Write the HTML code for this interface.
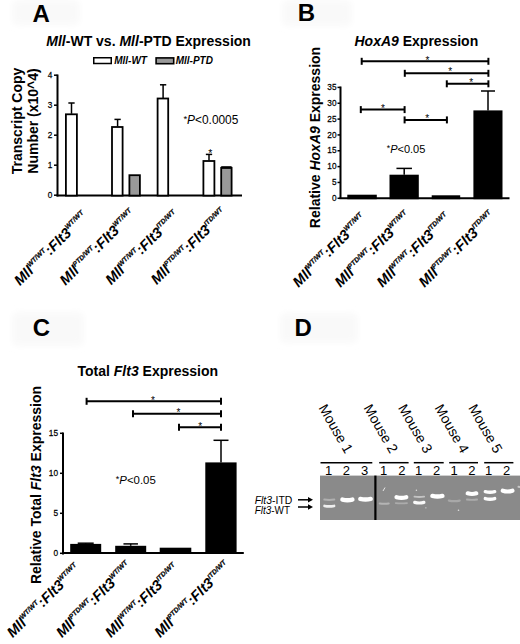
<!DOCTYPE html>
<html><head><meta charset="utf-8"><style>
html,body{margin:0;padding:0;background:#fff;}
svg{display:block;font-family:"Liberation Sans", sans-serif;}
</style></head><body>
<svg width="520" height="644" viewBox="0 0 520 644">
<defs><filter id="bl" filterUnits="userSpaceOnUse" x="300" y="460" width="220" height="70"><feGaussianBlur stdDeviation="0.65"/></filter><filter id="bl2" x="-20%" y="-40%" width="140%" height="180%"><feGaussianBlur stdDeviation="3"/></filter></defs>
<rect x="0" y="0" width="520" height="644" fill="#fff"/>
<rect x="12" y="0" width="68" height="25" rx="6" fill="#f9f9f9" filter="url(#bl2)"/>
<rect x="282" y="0" width="70" height="26" rx="6" fill="#f9f9f9" filter="url(#bl2)"/>
<rect x="12" y="312" width="72" height="34" rx="6" fill="#f9f9f9" filter="url(#bl2)"/>
<rect x="280" y="313" width="78" height="30" rx="6" fill="#f9f9f9" filter="url(#bl2)"/>
<text x="32.5" y="22" font-size="24" font-weight="bold" font-style="normal" text-anchor="start">A</text>
<text x="46.3" y="46.2" font-size="14" font-weight="bold" font-style="normal" text-anchor="start"><tspan font-style="italic">Mll</tspan>-WT vs. <tspan font-style="italic">Mll</tspan>-PTD Expression</text>
<rect x="93.75" y="57.75" width="17.5" height="5.75" fill="#fff" stroke="#000" stroke-width="1.5"/>
<text x="114.2" y="63.9" font-size="10" font-weight="bold" font-style="italic" text-anchor="start">Mll-WT</text>
<rect x="156.1" y="57.9" width="17.6" height="5.8" fill="#999" stroke="#000" stroke-width="1.6"/>
<text x="175.7" y="63.9" font-size="10" font-weight="bold" font-style="italic" text-anchor="start">Mll-PTD</text>
<text x="0" y="0" font-size="14" font-weight="bold" font-style="normal" text-anchor="middle" transform="translate(21.7,121) rotate(-90)">Transcript Copy</text>
<text x="0" y="0" font-size="14" font-weight="bold" font-style="normal" text-anchor="middle" transform="translate(37.5,121) rotate(-90)">Number (x10^4)</text>
<line x1="57.5" y1="74.5" x2="57.5" y2="196.5" stroke="#000" stroke-width="2"/>
<line x1="56.5" y1="195.6" x2="242" y2="195.6" stroke="#000" stroke-width="2"/>
<line x1="54" y1="195.2" x2="57.5" y2="195.2" stroke="#000" stroke-width="1.5"/>
<text transform="translate(52.4,197.79999999999998) scale(0.86,1)" font-size="9.6" text-anchor="end" stroke="#000" stroke-width="0.25">0</text>
<line x1="54" y1="165.2" x2="57.5" y2="165.2" stroke="#000" stroke-width="1.5"/>
<text transform="translate(52.4,167.79999999999998) scale(0.86,1)" font-size="9.6" text-anchor="end" stroke="#000" stroke-width="0.25">1</text>
<line x1="54" y1="135.2" x2="57.5" y2="135.2" stroke="#000" stroke-width="1.5"/>
<text transform="translate(52.4,137.79999999999998) scale(0.86,1)" font-size="9.6" text-anchor="end" stroke="#000" stroke-width="0.25">2</text>
<line x1="54" y1="105.19999999999999" x2="57.5" y2="105.19999999999999" stroke="#000" stroke-width="1.5"/>
<text transform="translate(52.4,107.79999999999998) scale(0.86,1)" font-size="9.6" text-anchor="end" stroke="#000" stroke-width="0.25">3</text>
<line x1="54" y1="75.19999999999999" x2="57.5" y2="75.19999999999999" stroke="#000" stroke-width="1.5"/>
<text transform="translate(52.4,77.79999999999998) scale(0.86,1)" font-size="9.6" text-anchor="end" stroke="#000" stroke-width="0.25">4</text>
<rect x="65.9" y="114.30000000000001" width="10.999999999999996" height="81.29999999999998" fill="#fff" stroke="#000" stroke-width="1.8"/>
<line x1="71.5" y1="113.8" x2="71.5" y2="103" stroke="#000" stroke-width="1.5"/>
<line x1="68.35" y1="103" x2="74.65" y2="103" stroke="#000" stroke-width="1.5"/>
<rect x="112.0" y="127.0" width="10.600000000000005" height="68.6" fill="#fff" stroke="#000" stroke-width="1.8"/>
<line x1="117.6" y1="126.5" x2="117.6" y2="119.4" stroke="#000" stroke-width="1.5"/>
<line x1="114.44999999999999" y1="119.4" x2="120.75" y2="119.4" stroke="#000" stroke-width="1.5"/>
<rect x="129.4" y="175.20000000000002" width="10.50000000000001" height="20.399999999999984" fill="#999" stroke="#000" stroke-width="1.8"/>
<rect x="157.6" y="98.5" width="10.600000000000005" height="97.1" fill="#fff" stroke="#000" stroke-width="1.8"/>
<line x1="163.1" y1="97.9" x2="163.1" y2="84.8" stroke="#000" stroke-width="1.5"/>
<line x1="159.95" y1="84.8" x2="166.25" y2="84.8" stroke="#000" stroke-width="1.5"/>
<rect x="203.4" y="161.0" width="11.00000000000001" height="34.6" fill="#fff" stroke="#000" stroke-width="1.8"/>
<line x1="209" y1="160.4" x2="209" y2="154.4" stroke="#000" stroke-width="1.5"/>
<line x1="205.85" y1="154.4" x2="212.15" y2="154.4" stroke="#000" stroke-width="1.5"/>
<text x="210.4" y="157.4" font-size="10.5" font-weight="normal" font-style="normal" text-anchor="middle">*</text>
<rect x="221.20000000000002" y="167.8" width="10.399999999999988" height="27.79999999999999" fill="#999" stroke="#000" stroke-width="1.8"/>
<line x1="221.2" y1="167.4" x2="231.6" y2="167.4" stroke="#000" stroke-width="2.4"/>
<text x="183.4" y="124" font-size="11.9" font-weight="normal" font-style="normal" text-anchor="start"><tspan font-size="80%" dy="-2.2">*</tspan><tspan font-style="italic" dy="2.2">P</tspan>&lt;0.0005</text>
<text transform="translate(20.0,286.2) rotate(-45)" font-size="14.5" font-weight="bold" font-style="italic">Mll<tspan font-size="6.8" dy="-6.525" stroke="#000" stroke-width="0.22">WT/WT</tspan><tspan dy="6.525">:Flt3</tspan><tspan font-size="6.8" dy="-6.525" stroke="#000" stroke-width="0.22">WT/WT</tspan></text>
<text transform="translate(65.6,285.9) rotate(-45)" font-size="14.5" font-weight="bold" font-style="italic">Mll<tspan font-size="6.8" dy="-6.525" stroke="#000" stroke-width="0.22">PTD/WT</tspan><tspan dy="6.525">:Flt3</tspan><tspan font-size="6.8" dy="-6.525" stroke="#000" stroke-width="0.22">WT/WT</tspan></text>
<text transform="translate(111.2,285.59999999999997) rotate(-45)" font-size="14.5" font-weight="bold" font-style="italic">Mll<tspan font-size="6.8" dy="-6.525" stroke="#000" stroke-width="0.22">WT/WT</tspan><tspan dy="6.525">:Flt3</tspan><tspan font-size="6.8" dy="-6.525" stroke="#000" stroke-width="0.22">ITD/WT</tspan></text>
<text transform="translate(156.8,285.3) rotate(-45)" font-size="14.5" font-weight="bold" font-style="italic">Mll<tspan font-size="6.8" dy="-6.525" stroke="#000" stroke-width="0.22">PTD/WT</tspan><tspan dy="6.525">:Flt3</tspan><tspan font-size="6.8" dy="-6.525" stroke="#000" stroke-width="0.22">ITD/WT</tspan></text>
<text x="297.75" y="21" font-size="24" font-weight="bold" font-style="normal" text-anchor="start">B</text>
<text x="354.5" y="46.2" font-size="14" font-weight="bold" font-style="normal" text-anchor="start"><tspan font-style="italic">HoxA9</tspan> Expression</text>
<text x="0" y="0" font-size="14" font-weight="bold" font-style="normal" text-anchor="middle" transform="translate(319.8,137.5) rotate(-90)">Relative <tspan font-style="italic">HoxA9</tspan> Expression</text>
<line x1="340.5" y1="86.5" x2="340.5" y2="199" stroke="#000" stroke-width="2"/>
<line x1="339.5" y1="198.3" x2="509.5" y2="198.3" stroke="#000" stroke-width="2"/>
<line x1="337.5" y1="198.3" x2="340.5" y2="198.3" stroke="#000" stroke-width="1.5"/>
<text transform="translate(336.5,200.9) scale(0.86,1)" font-size="9.6" text-anchor="end" stroke="#000" stroke-width="0.25">0</text>
<line x1="337.5" y1="182.45714285714286" x2="340.5" y2="182.45714285714286" stroke="#000" stroke-width="1.5"/>
<text transform="translate(336.5,185.05714285714285) scale(0.86,1)" font-size="9.6" text-anchor="end" stroke="#000" stroke-width="0.25">5</text>
<line x1="337.5" y1="166.61428571428573" x2="340.5" y2="166.61428571428573" stroke="#000" stroke-width="1.5"/>
<text transform="translate(336.5,169.21428571428572) scale(0.86,1)" font-size="9.6" text-anchor="end" stroke="#000" stroke-width="0.25">10</text>
<line x1="337.5" y1="150.77142857142857" x2="340.5" y2="150.77142857142857" stroke="#000" stroke-width="1.5"/>
<text transform="translate(336.5,153.37142857142857) scale(0.86,1)" font-size="9.6" text-anchor="end" stroke="#000" stroke-width="0.25">15</text>
<line x1="337.5" y1="134.92857142857144" x2="340.5" y2="134.92857142857144" stroke="#000" stroke-width="1.5"/>
<text transform="translate(336.5,137.52857142857144) scale(0.86,1)" font-size="9.6" text-anchor="end" stroke="#000" stroke-width="0.25">20</text>
<line x1="337.5" y1="119.0857142857143" x2="340.5" y2="119.0857142857143" stroke="#000" stroke-width="1.5"/>
<text transform="translate(336.5,121.6857142857143) scale(0.86,1)" font-size="9.6" text-anchor="end" stroke="#000" stroke-width="0.25">25</text>
<line x1="337.5" y1="103.24285714285715" x2="340.5" y2="103.24285714285715" stroke="#000" stroke-width="1.5"/>
<text transform="translate(336.5,105.84285714285714) scale(0.86,1)" font-size="9.6" text-anchor="end" stroke="#000" stroke-width="0.25">30</text>
<line x1="337.5" y1="87.4" x2="340.5" y2="87.4" stroke="#000" stroke-width="1.5"/>
<text transform="translate(336.5,90.0) scale(0.86,1)" font-size="9.6" text-anchor="end" stroke="#000" stroke-width="0.25">35</text>
<rect x="348.2" y="195.6" width="27.7" height="2.700000000000023" fill="#000" stroke="#000" stroke-width="1.8"/>
<rect x="390.4" y="175.6" width="27.50000000000001" height="22.700000000000024" fill="#000" stroke="#000" stroke-width="1.8"/>
<line x1="404.2" y1="174.7" x2="404.2" y2="168.4" stroke="#000" stroke-width="1.5"/>
<line x1="396.45" y1="168.4" x2="411.95" y2="168.4" stroke="#000" stroke-width="1.5"/>
<rect x="432.59999999999997" y="196.20000000000002" width="26.7" height="2.1" fill="#000" stroke="#000" stroke-width="1.8"/>
<rect x="474.29999999999995" y="111.30000000000001" width="27.300000000000022" height="87.0" fill="#000" stroke="#000" stroke-width="1.8"/>
<line x1="488" y1="110.4" x2="488" y2="91" stroke="#000" stroke-width="1.5"/>
<line x1="481.0" y1="91" x2="495.0" y2="91" stroke="#000" stroke-width="1.5"/>
<line x1="361.7" y1="61.3" x2="488.4" y2="61.3" stroke="#000" stroke-width="2"/>
<line x1="361.7" y1="57.8" x2="361.7" y2="64.8" stroke="#000" stroke-width="2"/>
<line x1="488.4" y1="57.8" x2="488.4" y2="64.8" stroke="#000" stroke-width="2"/>
<text x="427.5" y="63.5" font-size="10" font-weight="normal" font-style="normal" text-anchor="middle">*</text>
<line x1="404.8" y1="73.3" x2="488.4" y2="73.3" stroke="#000" stroke-width="2"/>
<line x1="404.8" y1="69.8" x2="404.8" y2="76.8" stroke="#000" stroke-width="2"/>
<line x1="488.4" y1="69.8" x2="488.4" y2="76.8" stroke="#000" stroke-width="2"/>
<text x="450.3" y="75.2" font-size="10" font-weight="normal" font-style="normal" text-anchor="middle">*</text>
<line x1="446.8" y1="83.8" x2="488.4" y2="83.8" stroke="#000" stroke-width="2"/>
<line x1="446.8" y1="80.3" x2="446.8" y2="87.3" stroke="#000" stroke-width="2"/>
<line x1="488.4" y1="80.3" x2="488.4" y2="87.3" stroke="#000" stroke-width="2"/>
<text x="471.3" y="86" font-size="10" font-weight="normal" font-style="normal" text-anchor="middle">*</text>
<line x1="360.8" y1="109.6" x2="404.6" y2="109.6" stroke="#000" stroke-width="2"/>
<line x1="360.8" y1="106.1" x2="360.8" y2="113.1" stroke="#000" stroke-width="2"/>
<line x1="404.6" y1="106.1" x2="404.6" y2="113.1" stroke="#000" stroke-width="2"/>
<text x="382.9" y="111.8" font-size="10" font-weight="normal" font-style="normal" text-anchor="middle">*</text>
<line x1="404.6" y1="119.9" x2="446.9" y2="119.9" stroke="#000" stroke-width="2"/>
<line x1="404.6" y1="116.4" x2="404.6" y2="123.4" stroke="#000" stroke-width="2"/>
<line x1="446.9" y1="116.4" x2="446.9" y2="123.4" stroke="#000" stroke-width="2"/>
<text x="427.1" y="122.2" font-size="10" font-weight="normal" font-style="normal" text-anchor="middle">*</text>
<text x="386.7" y="152.7" font-size="11.0" font-weight="normal" font-style="normal" text-anchor="start"><tspan font-size="80%" dy="-2.2">*</tspan><tspan font-style="italic" dy="2.2">P</tspan>&lt;0.05</text>
<text transform="translate(298.6,288) rotate(-45)" font-size="14.5" font-weight="bold" font-style="italic">Mll<tspan font-size="6.8" dy="-6.525" stroke="#000" stroke-width="0.22">WT/WT</tspan><tspan dy="6.525">:Flt3</tspan><tspan font-size="6.8" dy="-6.525" stroke="#000" stroke-width="0.22">WT/WT</tspan></text>
<text transform="translate(340.6,288) rotate(-45)" font-size="14.5" font-weight="bold" font-style="italic">Mll<tspan font-size="6.8" dy="-6.525" stroke="#000" stroke-width="0.22">PTD/WT</tspan><tspan dy="6.525">:Flt3</tspan><tspan font-size="6.8" dy="-6.525" stroke="#000" stroke-width="0.22">WT/WT</tspan></text>
<text transform="translate(382.6,288) rotate(-45)" font-size="14.5" font-weight="bold" font-style="italic">Mll<tspan font-size="6.8" dy="-6.525" stroke="#000" stroke-width="0.22">WT/WT</tspan><tspan dy="6.525">:Flt3</tspan><tspan font-size="6.8" dy="-6.525" stroke="#000" stroke-width="0.22">ITD/WT</tspan></text>
<text transform="translate(424.6,288) rotate(-45)" font-size="14.5" font-weight="bold" font-style="italic">Mll<tspan font-size="6.8" dy="-6.525" stroke="#000" stroke-width="0.22">PTD/WT</tspan><tspan dy="6.525">:Flt3</tspan><tspan font-size="6.8" dy="-6.525" stroke="#000" stroke-width="0.22">ITD/WT</tspan></text>
<text x="32.7" y="336" font-size="24" font-weight="bold" font-style="normal" text-anchor="start">C</text>
<text x="77.5" y="376.3" font-size="14" font-weight="bold" font-style="normal" text-anchor="start">Total <tspan font-style="italic">Flt3</tspan> Expression</text>
<text x="0" y="0" font-size="14" font-weight="bold" font-style="normal" text-anchor="middle" transform="translate(41,485) rotate(-90)">Relative Total <tspan font-style="italic">Flt3</tspan> Expression</text>
<line x1="63" y1="432.5" x2="63" y2="554.5" stroke="#000" stroke-width="2"/>
<line x1="62" y1="553.0" x2="243.8" y2="553.0" stroke="#000" stroke-width="2"/>
<line x1="60" y1="553.3" x2="63" y2="553.3" stroke="#000" stroke-width="1.5"/>
<text transform="translate(58,555.9) scale(0.86,1)" font-size="9.6" text-anchor="end" stroke="#000" stroke-width="0.25">0</text>
<line x1="60" y1="513.3" x2="63" y2="513.3" stroke="#000" stroke-width="1.5"/>
<text transform="translate(58,515.9) scale(0.86,1)" font-size="9.6" text-anchor="end" stroke="#000" stroke-width="0.25">5</text>
<line x1="60" y1="473.29999999999995" x2="63" y2="473.29999999999995" stroke="#000" stroke-width="1.5"/>
<text transform="translate(58,475.9) scale(0.86,1)" font-size="9.6" text-anchor="end" stroke="#000" stroke-width="0.25">10</text>
<line x1="60" y1="433.3" x2="63" y2="433.3" stroke="#000" stroke-width="1.5"/>
<text transform="translate(58,435.90000000000003) scale(0.86,1)" font-size="9.6" text-anchor="end" stroke="#000" stroke-width="0.25">15</text>
<rect x="71.10000000000001" y="544.8" width="29.2" height="8.200000000000022" fill="#000" stroke="#000" stroke-width="1.8"/>
<line x1="85.7" y1="543.9" x2="85.7" y2="543.2" stroke="#000" stroke-width="1.5"/>
<line x1="77.7" y1="543.2" x2="93.7" y2="543.2" stroke="#000" stroke-width="1.5"/>
<rect x="116.10000000000001" y="546.6999999999999" width="29.199999999999985" height="6.300000000000045" fill="#000" stroke="#000" stroke-width="1.8"/>
<line x1="130.7" y1="545.8" x2="130.7" y2="543.9" stroke="#000" stroke-width="1.5"/>
<line x1="123.44999999999999" y1="543.9" x2="137.95" y2="543.9" stroke="#000" stroke-width="1.5"/>
<rect x="160.6" y="548.6" width="29.800000000000022" height="4.399999999999954" fill="#000" stroke="#000" stroke-width="1.8"/>
<rect x="206.20000000000002" y="463.29999999999995" width="29.499999999999982" height="89.70000000000002" fill="#000" stroke="#000" stroke-width="1.8"/>
<line x1="221" y1="462.4" x2="221" y2="440.3" stroke="#000" stroke-width="1.5"/>
<line x1="213.5" y1="440.3" x2="228.5" y2="440.3" stroke="#000" stroke-width="1.5"/>
<line x1="86.6" y1="401.3" x2="221" y2="401.3" stroke="#000" stroke-width="2"/>
<line x1="86.6" y1="397.8" x2="86.6" y2="404.8" stroke="#000" stroke-width="2"/>
<line x1="221" y1="397.8" x2="221" y2="404.8" stroke="#000" stroke-width="2"/>
<text x="153" y="403.5" font-size="10" font-weight="normal" font-style="normal" text-anchor="middle">*</text>
<line x1="133" y1="413.8" x2="221" y2="413.8" stroke="#000" stroke-width="2"/>
<line x1="133" y1="410.3" x2="133" y2="417.3" stroke="#000" stroke-width="2"/>
<line x1="221" y1="410.3" x2="221" y2="417.3" stroke="#000" stroke-width="2"/>
<text x="178.4" y="416" font-size="10" font-weight="normal" font-style="normal" text-anchor="middle">*</text>
<line x1="179" y1="427.3" x2="221" y2="427.3" stroke="#000" stroke-width="2"/>
<line x1="179" y1="423.8" x2="179" y2="430.8" stroke="#000" stroke-width="2"/>
<line x1="221" y1="423.8" x2="221" y2="430.8" stroke="#000" stroke-width="2"/>
<text x="200.1" y="429.5" font-size="10" font-weight="normal" font-style="normal" text-anchor="middle">*</text>
<text x="115.8" y="483.7" font-size="11.4" font-weight="normal" font-style="normal" text-anchor="start"><tspan font-size="80%" dy="-2.2">*</tspan><tspan font-style="italic" dy="2.2">P</tspan>&lt;0.05</text>
<text transform="translate(12.75,638.3) rotate(-45)" font-size="14.5" font-weight="bold" font-style="italic">Mll<tspan font-size="6.8" dy="-6.525" stroke="#000" stroke-width="0.22">WT/WT</tspan><tspan dy="6.525">:Flt3</tspan><tspan font-size="6.8" dy="-6.525" stroke="#000" stroke-width="0.22">WT/WT</tspan></text>
<text transform="translate(61.92,638.3) rotate(-45)" font-size="14.5" font-weight="bold" font-style="italic">Mll<tspan font-size="6.8" dy="-6.525" stroke="#000" stroke-width="0.22">PTD/WT</tspan><tspan dy="6.525">:Flt3</tspan><tspan font-size="6.8" dy="-6.525" stroke="#000" stroke-width="0.22">WT/WT</tspan></text>
<text transform="translate(111.09,638.3) rotate(-45)" font-size="14.5" font-weight="bold" font-style="italic">Mll<tspan font-size="6.8" dy="-6.525" stroke="#000" stroke-width="0.22">WT/WT</tspan><tspan dy="6.525">:Flt3</tspan><tspan font-size="6.8" dy="-6.525" stroke="#000" stroke-width="0.22">ITD/WT</tspan></text>
<text transform="translate(160.26,638.3) rotate(-45)" font-size="14.5" font-weight="bold" font-style="italic">Mll<tspan font-size="6.8" dy="-6.525" stroke="#000" stroke-width="0.22">PTD/WT</tspan><tspan dy="6.525">:Flt3</tspan><tspan font-size="6.8" dy="-6.525" stroke="#000" stroke-width="0.22">ITD/WT</tspan></text>
<text x="294.5" y="336.3" font-size="24" font-weight="bold" font-style="normal" text-anchor="start">D</text>
<text x="0" y="0" font-size="14" font-weight="normal" font-style="normal" text-anchor="start" transform="translate(318.2,407.8) rotate(60)">Mouse 1</text>
<text x="0" y="0" font-size="14" font-weight="normal" font-style="normal" text-anchor="start" transform="translate(363.2,407.8) rotate(60)">Mouse 2</text>
<text x="0" y="0" font-size="14" font-weight="normal" font-style="normal" text-anchor="start" transform="translate(397.8,407.8) rotate(60)">Mouse 3</text>
<text x="0" y="0" font-size="14" font-weight="normal" font-style="normal" text-anchor="start" transform="translate(434.2,407.8) rotate(60)">Mouse 4</text>
<text x="0" y="0" font-size="14" font-weight="normal" font-style="normal" text-anchor="start" transform="translate(467.9,407.8) rotate(60)">Mouse 5</text>
<line x1="320.5" y1="462.7" x2="372.3" y2="462.7" stroke="#000" stroke-width="1.5"/>
<line x1="379.2" y1="462.7" x2="408.6" y2="462.7" stroke="#000" stroke-width="1.5"/>
<line x1="413.8" y1="462.7" x2="443.7" y2="462.7" stroke="#000" stroke-width="1.5"/>
<line x1="449.2" y1="462.7" x2="478" y2="462.7" stroke="#000" stroke-width="1.5"/>
<line x1="484.2" y1="462.7" x2="513.4" y2="462.7" stroke="#000" stroke-width="1.5"/>
<text x="328.5" y="474.8" font-size="13" font-weight="normal" font-style="normal" text-anchor="middle">1</text>
<text x="346.3" y="474.8" font-size="13" font-weight="normal" font-style="normal" text-anchor="middle">2</text>
<text x="364.5" y="474.8" font-size="13" font-weight="normal" font-style="normal" text-anchor="middle">3</text>
<text x="383.7" y="474.8" font-size="13" font-weight="normal" font-style="normal" text-anchor="middle">1</text>
<text x="401.8" y="474.8" font-size="13" font-weight="normal" font-style="normal" text-anchor="middle">2</text>
<text x="418.7" y="474.8" font-size="13" font-weight="normal" font-style="normal" text-anchor="middle">1</text>
<text x="436.6" y="474.8" font-size="13" font-weight="normal" font-style="normal" text-anchor="middle">2</text>
<text x="454" y="474.8" font-size="13" font-weight="normal" font-style="normal" text-anchor="middle">1</text>
<text x="471.8" y="474.8" font-size="13" font-weight="normal" font-style="normal" text-anchor="middle">2</text>
<text x="488.6" y="474.8" font-size="13" font-weight="normal" font-style="normal" text-anchor="middle">1</text>
<text x="506.7" y="474.8" font-size="13" font-weight="normal" font-style="normal" text-anchor="middle">2</text>
<rect x="320" y="475.6" width="200" height="44.4" fill="#8a8a8a"/>
<rect x="374.3" y="475.6" width="2.2" height="44.4" fill="#000"/>
<path d="M324.30,499.60 Q329.30,500.40 334.30,499.60" stroke="#b0b0b0" stroke-width="2.0" stroke-linecap="round" fill="none" filter="url(#bl)"/>
<path d="M324.50,505.90 Q329.30,506.90 334.10,505.90" stroke="#eeeeee" stroke-width="2.6" stroke-linecap="round" fill="none" filter="url(#bl)"/>
<path d="M342.40,499.60 Q347.40,500.80 352.40,499.60" stroke="#fff" stroke-width="4.4" stroke-linecap="round" fill="none" filter="url(#bl)"/>
<path d="M360.30,498.90 Q365.50,500.10 370.70,498.90" stroke="#fff" stroke-width="4.4" stroke-linecap="round" fill="none" filter="url(#bl)"/>
<path d="M379.70,503.40 Q384.20,504.20 388.70,503.40" stroke="#b4b4b4" stroke-width="2.0" stroke-linecap="round" fill="none" filter="url(#bl)"/>
<path d="M396.50,497.20 Q401.40,498.60 406.30,497.20" stroke="#fff" stroke-width="4.2" stroke-linecap="round" fill="none" filter="url(#bl)"/>
<path d="M395.80,503.10 Q401.40,503.70 407.00,503.10" stroke="#acacac" stroke-width="1.8" stroke-linecap="round" fill="none" filter="url(#bl)"/>
<path d="M414.45,496.60 Q419.30,497.40 424.15,496.60" stroke="#c4c4c4" stroke-width="1.8" stroke-linecap="round" fill="none" filter="url(#bl)"/>
<path d="M414.70,502.40 Q419.30,503.60 423.90,502.40" stroke="#fafafa" stroke-width="3.2" stroke-linecap="round" fill="none" filter="url(#bl)"/>
<path d="M432.40,495.90 Q437.40,497.10 442.40,495.90" stroke="#fff" stroke-width="4.4" stroke-linecap="round" fill="none" filter="url(#bl)"/>
<path d="M448.90,500.60 Q454.30,501.80 459.70,500.60" stroke="#a8a8a8" stroke-width="2.2" stroke-linecap="round" fill="none" filter="url(#bl)"/>
<path d="M467.70,493.30 Q472.00,494.70 476.30,493.30" stroke="#fff" stroke-width="4.2" stroke-linecap="round" fill="none" filter="url(#bl)"/>
<path d="M466.90,499.50 Q472.00,500.10 477.10,499.50" stroke="#adadad" stroke-width="1.8" stroke-linecap="round" fill="none" filter="url(#bl)"/>
<path d="M485.30,491.70 Q490.00,492.90 494.70,491.70" stroke="#fcfcfc" stroke-width="3.4" stroke-linecap="round" fill="none" filter="url(#bl)"/>
<path d="M485.30,498.60 Q490.00,499.80 494.70,498.60" stroke="#fcfcfc" stroke-width="3.4" stroke-linecap="round" fill="none" filter="url(#bl)"/>
<path d="M502.80,490.70 Q507.60,492.30 512.40,490.70" stroke="#fff" stroke-width="4.2" stroke-linecap="round" fill="none" filter="url(#bl)"/>
<path d="M518.50,486.80 Q521.00,487.20 523.50,486.80" stroke="#c8c8c8" stroke-width="2.0" stroke-linecap="round" fill="none" filter="url(#bl)"/>
<path d="M383,491 L385,487.5" stroke="#e8e8e8" stroke-width="1" fill="none"/>
<circle cx="416.4" cy="490.2" r="0.7" fill="#e0e0e0"/>
<circle cx="425.9" cy="507.8" r="0.6" fill="#e0e0e0"/>
<circle cx="458.5" cy="510.3" r="0.8" fill="#e0e0e0"/>
<text x="254.7" y="504.0" font-size="10.5" font-weight="normal" font-style="normal" text-anchor="start" textLength="37.6" lengthAdjust="spacingAndGlyphs"><tspan font-style="italic">Flt3</tspan>-ITD</text>
<text x="254.7" y="514.3" font-size="10.5" font-weight="normal" font-style="normal" text-anchor="start" textLength="35.3" lengthAdjust="spacingAndGlyphs"><tspan font-style="italic">Flt3</tspan>-WT</text>
<line x1="298" y1="499.8" x2="309" y2="499.8" stroke="#000" stroke-width="1.5"/>
<path d="M308,497.0 L313,499.8 L308,502.6 Z" fill="#000"/>
<line x1="298" y1="507" x2="309" y2="507" stroke="#000" stroke-width="1.5"/>
<path d="M308,504.2 L313,507 L308,509.8 Z" fill="#000"/>
</svg></body></html>
